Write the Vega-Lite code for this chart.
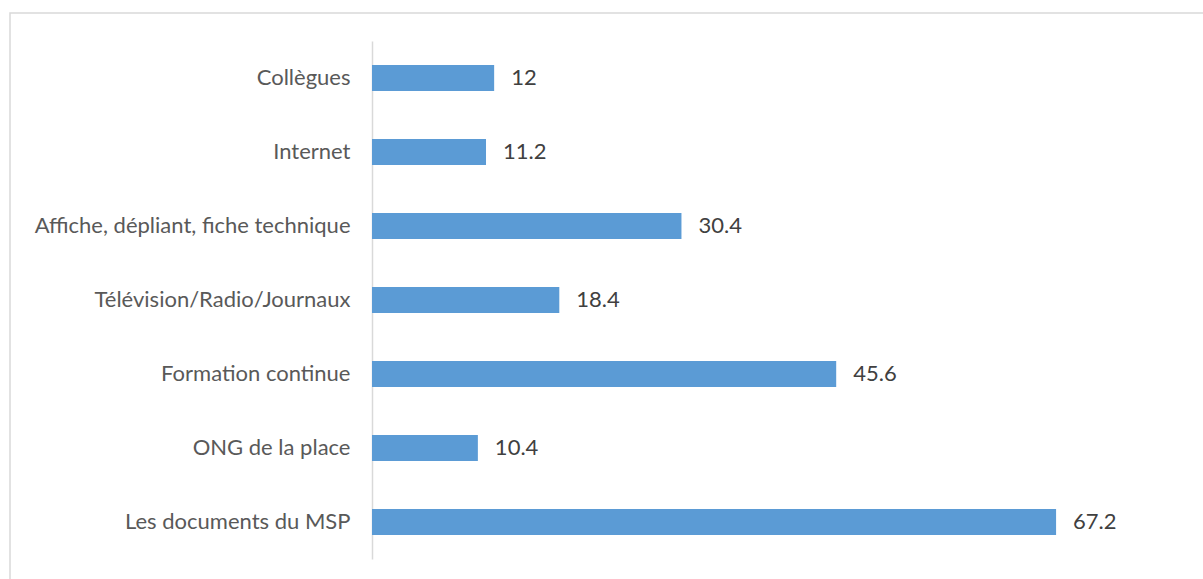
{
  "$schema": "https://vega.github.io/schema/vega-lite/v6.json",
  "autosize": {"type": "none"},
  "padding": {"left": 10, "top": 13, "right": 0, "bottom": 0},
  "width": 1200,
  "height": 580,
  "background": "white",
  "config": {
    "view": {"stroke": "#d9d9d9", "strokeWidth": 1.5},
    "font": "Lato"
  },
  "data": {
    "values": [
      {"source": "Collègues", "pct": 12},
      {"source": "Internet", "pct": 11.2},
      {"source": "Affiche, dépliant, fiche technique", "pct": 30.4},
      {"source": "Télévision/Radio/Journaux", "pct": 18.4},
      {"source": "Formation continue", "pct": 45.6},
      {"source": "ONG de la place", "pct": 10.4},
      {"source": "Les documents du MSP", "pct": 67.2}
    ]
  },
  "encoding": {
    "y": {
      "field": "source",
      "type": "nominal",
      "sort": null,
      "scale": {"range": [28, 546], "paddingInner": 0.649, "paddingOuter": 0.3245},
      "axis": {
        "title": null,
        "offset": -362,
        "domainColor": "#d9d9d9",
        "domainWidth": 1.5,
        "ticks": false,
        "labelPadding": 22,
        "labelFontSize": 22,
        "labelColor": "#595959",
        "labelFont": "Lato",
        "labelLimit": 0
      }
    },
    "x": {
      "field": "pct",
      "type": "quantitative",
      "scale": {"domain": [-35.56, 82.32], "nice": false, "zero": false},
      "axis": null
    }
  },
  "layer": [
    {
      "mark": {"type": "bar", "color": "#5B9BD5"},
      "encoding": {"x2": {"datum": 0}}
    },
    {
      "mark": {"type": "text", "align": "left", "baseline": "middle", "dx": 17, "fontSize": 22, "color": "#404040", "font": "Lato"},
      "encoding": {"text": {"field": "pct", "type": "quantitative"}}
    }
  ]
}
